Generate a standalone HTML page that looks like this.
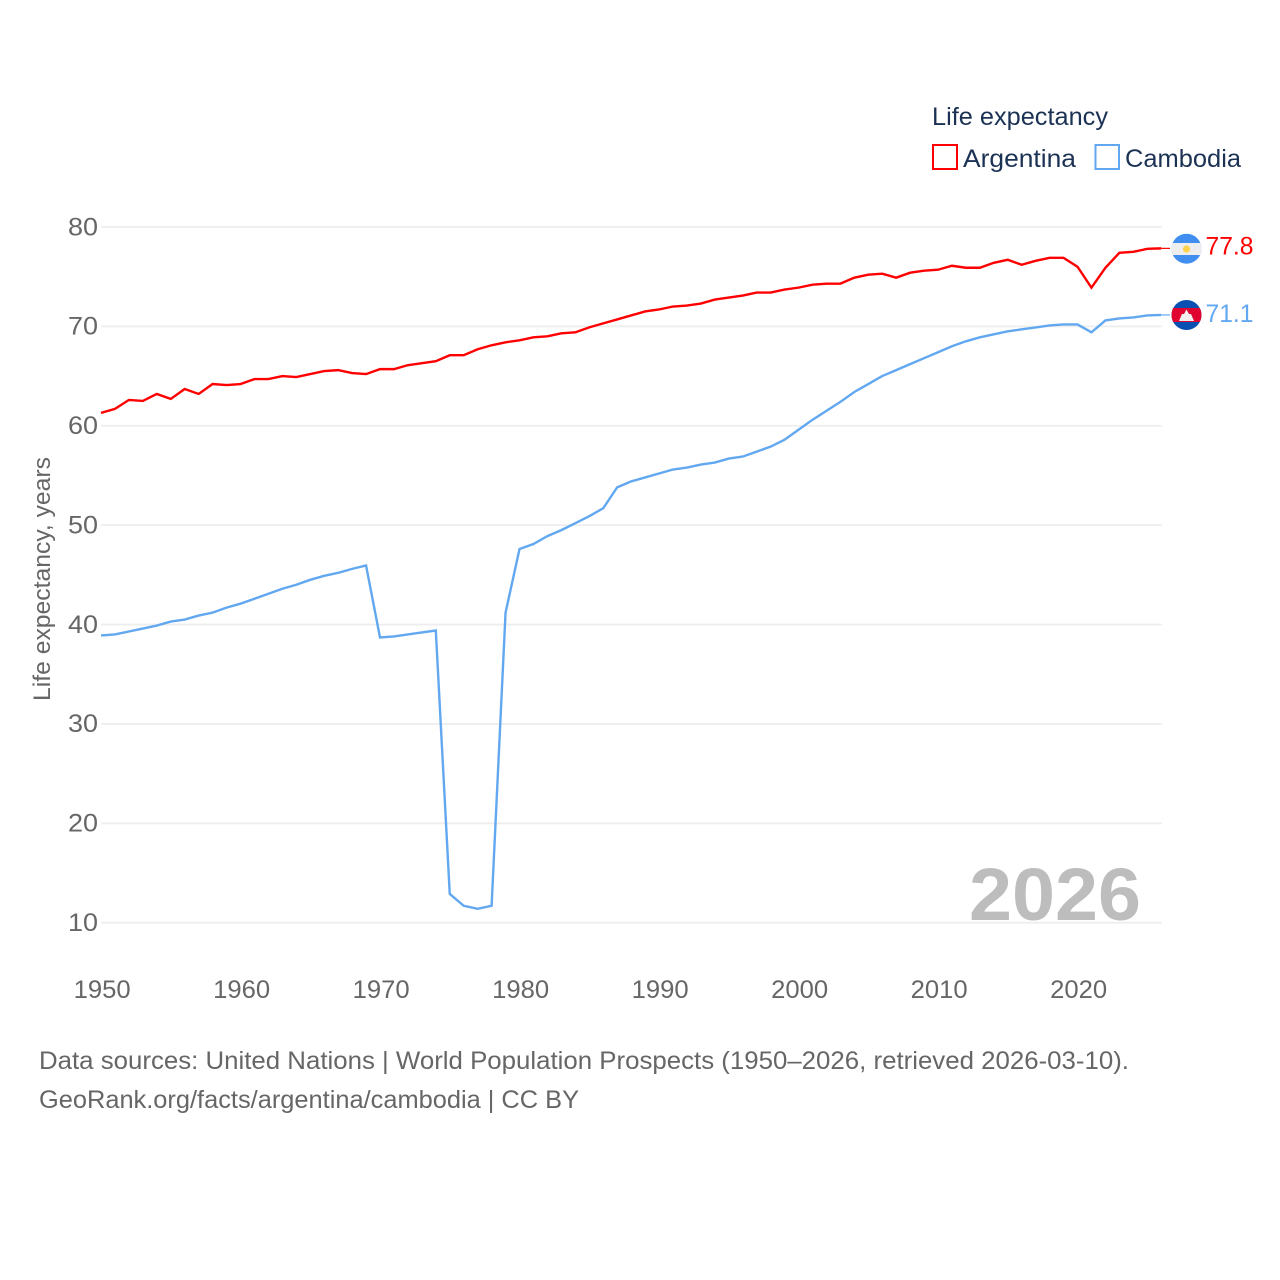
<!DOCTYPE html>
<html lang="en">
<head>
<meta charset="utf-8">
<title>Life expectancy: Argentina and Cambodia</title>
<style>
html,body{margin:0;padding:0;background:#fff;width:1280px;height:1280px;overflow:hidden}
svg{display:block}
text{font-family:"Liberation Sans",sans-serif}
</style>
</head>
<body>
<svg id="chart" xmlns="http://www.w3.org/2000/svg" width="1280" height="1280" viewBox="0 0 1280 1280">
  <rect x="0" y="0" width="1280" height="1280" fill="#fff"/>
  <g id="grid"></g>
  <g id="yticks"></g>
  <g id="xticks"></g>
  <text transform="translate(50,701) rotate(-90)" font-size="24" fill="#666" textLength="244" lengthAdjust="spacingAndGlyphs">Life expectancy, years</text>
  <text x="969" y="920" font-size="74" font-weight="700" fill="#bdbdbd" textLength="172" lengthAdjust="spacingAndGlyphs">2026</text>
  <g id="series"></g>

  <text x="932" y="125" font-size="25" fill="#1c3254" textLength="176" lengthAdjust="spacingAndGlyphs">Life expectancy</text>
  <g>
    <rect x="933" y="145" width="24" height="24" fill="#fff" stroke="#ff0000" stroke-width="2"/>
    <text x="963" y="167" font-size="25" fill="#1c3254" textLength="113" lengthAdjust="spacingAndGlyphs">Argentina</text>
  </g>
  <g>
    <rect x="1095.5" y="145" width="23.5" height="24" fill="#fff" stroke="#62a8f0" stroke-width="2"/>
    <text x="1125" y="167" font-size="25" fill="#1c3254" textLength="116" lengthAdjust="spacingAndGlyphs">Cambodia</text>
  </g>

  <defs>
    <clipPath id="clip-ar"><circle cx="1186.5" cy="248.7" r="15"/></clipPath>
    <clipPath id="clip-kh"><circle cx="1186.5" cy="315" r="15"/></clipPath>
  </defs>
  <g clip-path="url(#clip-ar)">
    <rect x="1171" y="233" width="31" height="32" fill="#3f8ef0"/>
    <rect x="1171" y="243" width="31" height="12" fill="#eeeeee"/>
    <circle cx="1186.5" cy="249" r="3.6" fill="#ffd24d"/>
  </g>
  <g clip-path="url(#clip-kh)">
    <rect x="1171" y="299" width="31" height="32" fill="#0b4fb3"/>
    <rect x="1171" y="308" width="31" height="14" fill="#df0530"/>
    <polygon points="1186.5,309.5 1189,314 1191,314 1194,321 1179,321 1182,314 1184,314" fill="#f4efef"/>
  </g>

  <text x="39" y="1069" font-size="25" fill="#666" textLength="1090" lengthAdjust="spacingAndGlyphs">Data sources: United Nations | World Population Prospects (1950–2026, retrieved 2026-03-10).</text>
  <text x="39" y="1108" font-size="25" fill="#666" textLength="540" lengthAdjust="spacingAndGlyphs">GeoRank.org/facts/argentina/cambodia | CC BY</text>
</svg>
<script>
const years = [1950,1951,1952,1953,1954,1955,1956,1957,1958,1959,1960,1961,1962,1963,1964,1965,1966,1967,1968,1969,1970,1971,1972,1973,1974,1975,1976,1977,1978,1979,1980,1981,1982,1983,1984,1985,1986,1987,1988,1989,1990,1991,1992,1993,1994,1995,1996,1997,1998,1999,2000,2001,2002,2003,2004,2005,2006,2007,2008,2009,2010,2011,2012,2013,2014,2015,2016,2017,2018,2019,2020,2021,2022,2023,2024,2025,2026];
const argentina = [61.3,61.7,62.6,62.5,63.2,62.7,63.7,63.2,64.2,64.1,64.2,64.7,64.7,65.0,64.9,65.2,65.5,65.6,65.3,65.2,65.7,65.7,66.1,66.3,66.5,67.1,67.1,67.7,68.1,68.4,68.6,68.9,69.0,69.3,69.4,69.9,70.3,70.7,71.1,71.5,71.7,72.0,72.1,72.3,72.7,72.9,73.1,73.4,73.4,73.7,73.9,74.2,74.3,74.3,74.9,75.2,75.3,74.9,75.4,75.6,75.7,76.1,75.9,75.9,76.4,76.7,76.2,76.6,76.9,76.9,76.0,73.9,75.9,77.4,77.5,77.8,77.85];
const cambodia = [38.9,39.0,39.3,39.6,39.9,40.3,40.5,40.9,41.2,41.7,42.1,42.6,43.1,43.6,44.0,44.5,44.9,45.2,45.6,45.95,38.7,38.8,39.0,39.2,39.4,12.9,11.7,11.4,11.7,41.2,47.6,48.1,48.9,49.5,50.2,50.9,51.7,53.8,54.4,54.8,55.2,55.6,55.8,56.1,56.3,56.7,56.9,57.4,57.9,58.6,59.6,60.6,61.5,62.4,63.4,64.2,65.0,65.6,66.2,66.8,67.4,68.0,68.5,68.9,69.2,69.5,69.7,69.9,70.1,70.2,70.2,69.4,70.6,70.8,70.9,71.1,71.15];
const yTickValues = [10,20,30,40,50,60,70,80];
const xTickValues = [1950,1960,1970,1980,1990,2000,2010,2020];
const argentinaLabel = "77.8";
const cambodiaLabel = "71.1";

const NS = "http://www.w3.org/2000/svg";
const PLOT_LEFT = 101, PLOT_RIGHT = 1161.2, PLOT_TOP = 227, PLOT_BOTTOM = 922.7;
const X_MIN = 1950, X_MAX = 2026, Y_MIN = 10, Y_MAX = 80;
function xScale(v){ return PLOT_LEFT + (v - X_MIN) / (X_MAX - X_MIN) * (PLOT_RIGHT - PLOT_LEFT); }
function yScale(v){ return PLOT_BOTTOM - (v - Y_MIN) / (Y_MAX - Y_MIN) * (PLOT_BOTTOM - PLOT_TOP); }
function make(tag, attrs, parent, txt){
  const el = document.createElementNS(NS, tag);
  for (const k in attrs) el.setAttribute(k, attrs[k]);
  if (txt !== undefined) el.textContent = txt;
  parent.appendChild(el);
  return el;
}

const gridG = document.getElementById('grid');
const yG = document.getElementById('yticks');
yTickValues.forEach(function(v){
  const line = make('line', {x1:PLOT_LEFT, x2:PLOT_RIGHT + 0.6, y1:yScale(v), y2:yScale(v), stroke:'#eeeeee', 'stroke-width':1.8}, gridG);
  
  
  const label = make('text', {x:98, y:yScale(v)+8.3, 'font-size':25, fill:'#666', 'text-anchor':'end', textLength:30, lengthAdjust:'spacingAndGlyphs'}, yG, String(v));
  
  
});

const xG = document.getElementById('xticks');
xTickValues.forEach(function(v){
  const label = make('text', {x:xScale(v)+1.2, y:998, 'font-size':25, fill:'#666', 'text-anchor':'middle', textLength:57, lengthAdjust:'spacingAndGlyphs'}, xG, String(v));
  
  
});

const seriesG = document.getElementById('series');
function pathFor(values){
  return values.map(function(v, i){ return (i ? 'L' : 'M') + xScale(years[i]).toFixed(2) + ' ' + yScale(v).toFixed(2); }).join(' ');
}

const argLine = make('path', {d:pathFor(argentina), fill:'none', stroke:'#ff0000', 'stroke-width':2.4, 'stroke-linejoin':'miter'}, seriesG);



const camLine = make('path', {d:pathFor(cambodia), fill:'none', stroke:'#62a8f0', 'stroke-width':2.4, 'stroke-linejoin':'miter'}, seriesG);



const argEnd = yScale(argentina[argentina.length - 1]);
const camEnd = yScale(cambodia[cambodia.length - 1]);

const argConn = make('line', {x1:PLOT_RIGHT, x2:1170, y1:argEnd, y2:argEnd, stroke:'#ff0000', 'stroke-width':1.2}, seriesG);



const camConn = make('line', {x1:PLOT_RIGHT, x2:1170, y1:camEnd, y2:camEnd, stroke:'#62a8f0', 'stroke-width':1.2}, seriesG);



const argValue = make('text', {x:1205.5, y:254.3, 'font-size':25, fill:'#ff0000', textLength:48, lengthAdjust:'spacingAndGlyphs'}, seriesG, argentinaLabel);



const camValue = make('text', {x:1205.5, y:322, 'font-size':25, fill:'#62a8f0', textLength:48, lengthAdjust:'spacingAndGlyphs'}, seriesG, cambodiaLabel);


</script>
</body>
</html>
